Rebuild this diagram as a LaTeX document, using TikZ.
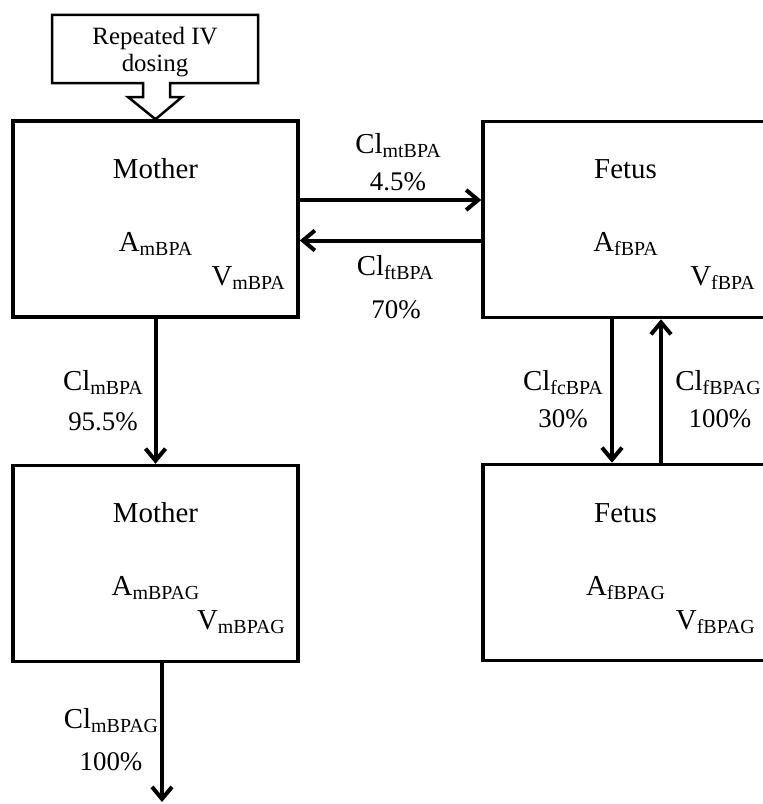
\documentclass[tikz,border=0pt]{standalone}
\usepackage{fontspec}
\setmainfont{Liberation Serif}
\usetikzlibrary{arrows.meta}

% small lowered text for the compartment indices
\newcommand\subtxt[2][20]{\raisebox{-4bp}{\fontsize{#1}{#1}\selectfont #2}}

\begin{document}
\begin{tikzpicture}[x=1bp, y=-1bp,
	compartment/.style={draw, line width=3.5bp, minimum width=285bp, minimum height=196bp, inner sep=0pt},
	box text/.style={font=\fontsize{29}{29}\selectfont, inner sep=0pt, anchor=base},
	volume text/.style={box text, anchor=base east},
	flow/.style={line width=4bp, -{Straight Barb[length=12bp,width=20bp,line join=miter]}},
	flow label/.style={font=\fontsize{29}{29}\selectfont, inner sep=0pt, anchor=base},
	percent label/.style={font=\fontsize{27}{27}\selectfont, inner sep=0pt, anchor=base},
	dose/.style={draw, line width=2.5bp, line join=miter}]

	\useasboundingbox (0,0) rectangle (763,804);
	\clip (0,0) rectangle (763,804);

	% compartments
	\node[compartment] (mBPA) at (155.5,219) {};
	\node[compartment] (fBPA) at (625.5,219.5) {};
	\node[compartment] (mBPAG) at (155.5,563.5) {};
	\node[compartment] (fBPAG) at (625.5,562.5) {};

	\node[box text] (mBPA title) at (155.5,178) {Mother};
	\node[box text] (mBPA amount) at (155.5,251) {A\subtxt{mBPA}};
	\node[volume text] (mBPA volume) at (285,285) {V\subtxt{mBPA}};

	\node[box text] (fBPA title) at (625.5,178) {Fetus};
	\node[box text] (fBPA amount) at (625.5,251) {A\subtxt{fBPA}};
	\node[volume text] (fBPA volume) at (755,285) {V\subtxt{fBPA}};

	\node[box text] (mBPAG title) at (155.5,522) {Mother};
	\node[box text] (mBPAG amount) at (155.5,595) {A\subtxt{mBPAG}};
	\node[volume text] (mBPAG volume) at (285,629) {V\subtxt{mBPAG}};

	\node[box text] (fBPAG title) at (625.5,522) {Fetus};
	\node[box text] (fBPAG amount) at (625.5,595) {A\subtxt{fBPAG}};
	\node[volume text] (fBPAG volume) at (755,629) {V\subtxt{fBPAG}};

	% dosing block arrow
	\node[font=\fontsize{25}{27}\selectfont, align=center, inner sep=0pt] (dose) at (155,52) {Repeated IV\\dosing};
	\draw[dose] (52,15) -- (258,15) -- (258,83) -- (170,83) -- (170,97) -- (182,97)
		-- (mBPA.north) -- (128,97) -- (143,97) -- (143,83) -- (52,83) -- cycle;

	% clearances
	\draw[flow] ([yshift=19bp]mBPA.east) -- ([yshift=19bp]mBPA.east -| fBPA.west);
	\draw[flow] ([yshift=-21bp]fBPA.west) -- ([yshift=-21bp]fBPA.west -| mBPA.east);
	\draw[flow] (mBPA) -- (mBPAG);
	\draw[flow] ([xshift=-13.5bp]fBPA.south) -- ([xshift=-13.5bp]fBPAG.north);
	\draw[flow] ([xshift=35.5bp]fBPAG.north) -- ([xshift=35.5bp]fBPA.south);
	\coordinate (elim) at (162,802);
	\draw[flow] (mBPAG.south -| elim) -- (elim);

	\node[flow label] (mt cl) at (398,153) {Cl\subtxt{mtBPA}};
	\node[percent label] (mt pc) at (398,190) {4.5\%};
	\node[flow label] (ft cl) at (395,275) {Cl\subtxt{ftBPA}};
	\node[percent label] (ft pc) at (396,318) {70\%};
	\node[flow label] (m cl) at (103,390) {Cl\subtxt{mBPA}};
	\node[percent label] (m pc) at (103,430) {95.5\%};
	\node[flow label] (fc cl) at (563,390) {Cl\subtxt{fcBPA}};
	\node[percent label] (fc pc) at (563,427) {30\%};
	\node[flow label] (fg cl) at (718,390) {Cl\subtxt{fBPAG}};
	\node[percent label] (fg pc) at (720,427) {100\%};
	\node[flow label] (mg cl) at (111,728) {Cl\subtxt{mBPAG}};
	\node[percent label] (mg pc) at (111,770) {100\%};
\end{tikzpicture}
\end{document}
